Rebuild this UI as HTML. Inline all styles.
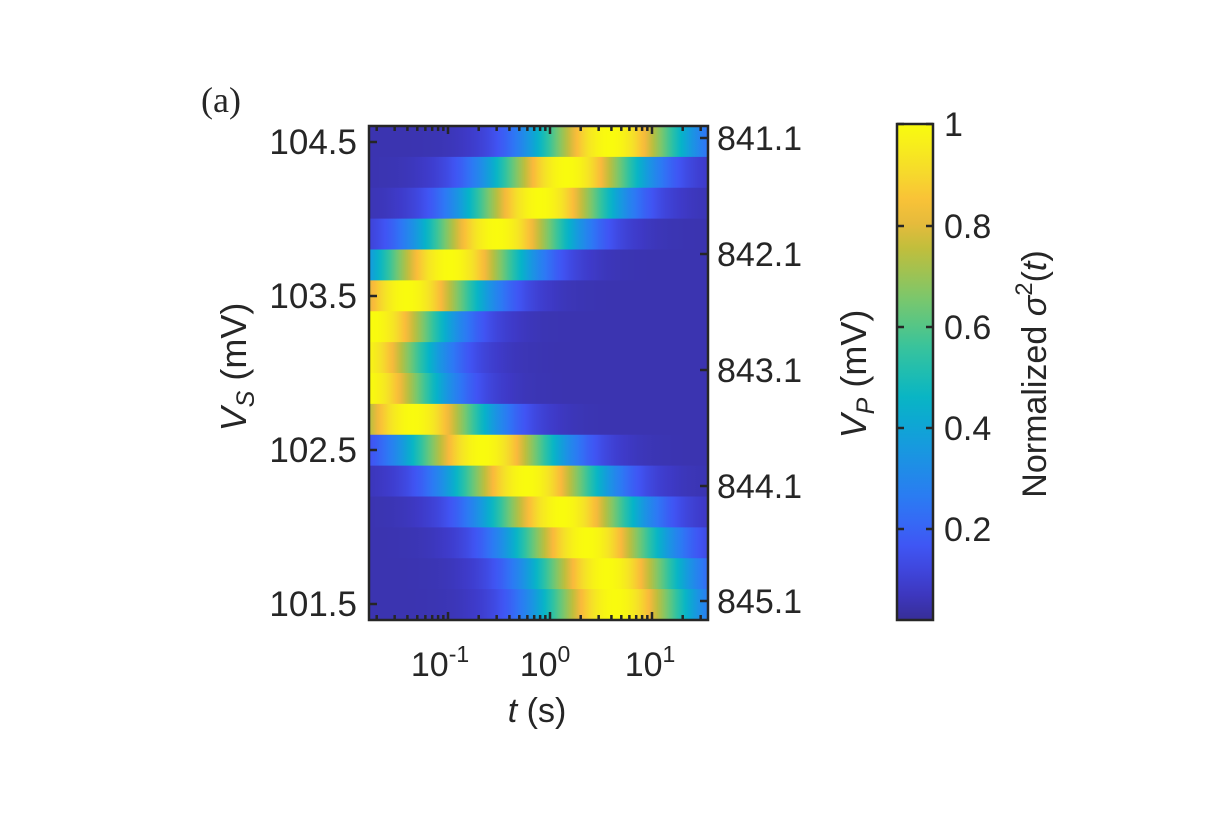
<!DOCTYPE html>
<html><head><meta charset="utf-8"><style>
body{margin:0;background:#fff;width:1230px;height:820px;overflow:hidden}
svg{position:absolute;left:0;top:0}
text{font-family:"Liberation Sans",sans-serif;fill:#262626}
</style></head><body>
<svg id="s" width="1230" height="820" xmlns="http://www.w3.org/2000/svg">
<defs id="d"></defs>
<g id="g"></g>
<text x="201" y="112" style="font-family:'Liberation Serif',serif;font-size:36px">(a)</text>
<g font-size="35" text-anchor="end">
<text x="357" y="154">104.5</text><text x="357" y="308">103.5</text>
<text x="357" y="462">102.5</text><text x="357" y="616">101.5</text></g>
<g font-size="34">
<text x="717" y="150">841.1</text><text x="717" y="266">842.1</text>
<text x="717" y="382">843.1</text><text x="717" y="498">844.1</text><text x="717" y="613">845.1</text></g>
<g font-size="34" text-anchor="middle">
<text x="440" y="676">10<tspan dy="-14" font-size="23">-1</tspan></text>
<text x="545" y="676">10<tspan dy="-14" font-size="23">0</tspan></text>
<text x="650" y="676">10<tspan dy="-14" font-size="23">1</tspan></text>
<text x="537" y="722"><tspan font-style="italic">t</tspan> (s)</text></g>
<text transform="translate(246,367) rotate(-90)" font-size="36" text-anchor="middle"><tspan font-style="italic">V</tspan><tspan font-style="italic" font-size="25" dy="8">S</tspan><tspan dy="-8"> (mV)</tspan></text>
<text transform="translate(866,374) rotate(-90)" font-size="36" text-anchor="middle"><tspan font-style="italic">V</tspan><tspan font-style="italic" font-size="25" dy="8">P</tspan><tspan dy="-8"> (mV)</tspan></text>
<g font-size="34">
<text x="944" y="136">1</text><text x="944" y="238">0.8</text><text x="944" y="339">0.6</text>
<text x="944" y="440">0.4</text><text x="944" y="541">0.2</text></g>
<text transform="translate(1046,374) rotate(-90)" style="font-size:34px" text-anchor="middle">Normalized <tspan font-style="italic">σ</tspan><tspan style="font-size:24px" dy="-14">2</tspan><tspan dy="14">(</tspan><tspan font-style="italic">t</tspan>)</text>
</svg>
<script>
const S=[[0,53,42,135],[0.08,62,58,200],[0.16,64,84,244],[0.25,45,120,245],[0.35,25,150,225],[0.45,5,180,200],[0.55,50,195,160],[0.65,120,200,110],[0.75,190,190,60],[0.83,250,185,60],[0.92,245,225,40],[1,249,251,14]];
function col(v){v=Math.max(0,Math.min(1,v));for(let i=1;i<S.length;i++){if(v<=S[i][0]){const a=S[i-1],b=S[i],f=(v-a[0])/(b[0]-a[0]);return `rgb(${Math.round(a[1]+f*(b[1]-a[1]))},${Math.round(a[2]+f*(b[2]-a[2]))},${Math.round(a[3]+f*(b[3]-a[3]))})`;}}}
const ns="http://www.w3.org/2000/svg",d=document.getElementById('d'),g=document.getElementById('g');
function el(t,a,p){const e=document.createElementNS(ns,t);for(const k in a)e.setAttribute(k,a[k]);(p||g).appendChild(e);return e;}
const X0=369,X1=708,Y0=126,Y1=620;
const cen=[610,567,540,497,450,407,372,358,365,413,483,527,562,587,607,615];
const rh=(Y1-Y0)/16;
cen.forEach((c,i)=>{const lg=el('linearGradient',{id:'r'+i,x1:0,x2:1,y1:0,y2:0},d);
for(let x=X0;x<=X1;x+=4){const dd=x-c;const v=0.05+0.95*Math.exp(-dd*dd/(2*54*54));el('stop',{offset:(x-X0)/(X1-X0),'stop-color':col(v)},lg);}
el('rect',{x:X0,y:Y0+i*rh,width:X1-X0,height:rh+0.6,fill:'url(#r'+i+')'});});
el('rect',{x:X0,y:Y0,width:X1-X0,height:Y1-Y0,fill:'none',stroke:'#262626','stroke-width':2.5});
const dec=102,x10=448;
for(let e=-2;e<=1;e++)for(let m=1;m<=9;m++){const x=x10+(e+1)*dec+Math.log10(m)*dec;if(x<X0+2||x>X1-2)continue;const L=m==1?8:5;
el('line',{x1:x,x2:x,y1:Y0,y2:Y0+L,stroke:'#262626','stroke-width':2.5});el('line',{x1:x,x2:x,y1:Y1,y2:Y1-L,stroke:'#262626','stroke-width':2.5});}
[142,296,450,604].forEach(y=>el('line',{x1:X0,x2:X0+8,y1:y,y2:y,stroke:'#262626','stroke-width':2.5}));
[138,254,370,486,601].forEach(y=>el('line',{x1:X1,x2:X1-8,y1:y,y2:y,stroke:'#262626','stroke-width':2.5}));
const cg=el('linearGradient',{id:'cb',x1:0,x2:0,y1:1,y2:0},d);
for(let k=0;k<=20;k++){const v=0.018+(1-0.018)*k/20;el('stop',{offset:k/20,'stop-color':col(v)},cg);}
el('rect',{x:897,y:124,width:36,height:496,fill:'url(#cb)',stroke:'#262626','stroke-width':2.5});
[124,226,327,428,529].forEach(y=>{el('line',{x1:933,x2:926,y1:y,y2:y,stroke:'#262626','stroke-width':2.5});el('line',{x1:897,x2:904,y1:y,y2:y,stroke:'#262626','stroke-width':2.5});});
</script>
</body></html>
